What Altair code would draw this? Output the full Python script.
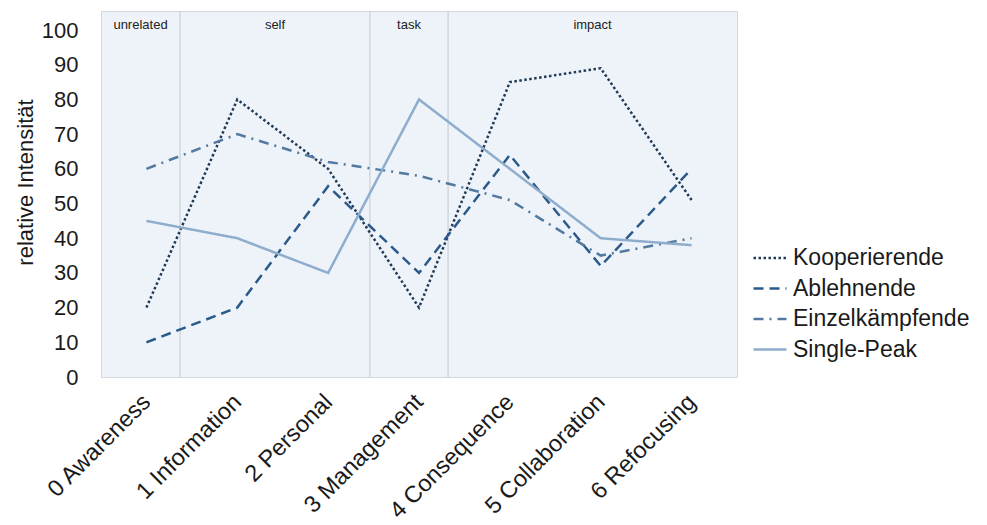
import altair as alt
import pandas as pd

FONT = "Liberation Sans"

# CBAM stages of concern (x axis)
stages = ["0 Awareness", "1 Information", "2 Personal", "3 Management",
          "4 Consequence", "5 Collaboration", "6 Refocusing"]

# Profile groups and their relative intensities per stage
series_names = ["Kooperierende", "Ablehnende", "Einzelkämpfende", "Single-Peak"]
kooperierende = [20, 80, 60, 20, 85, 89, 51]
ablehnende = [10, 20, 55, 30, 64, 32, 60]
einzelkaempfende = [60, 70, 62, 58, 51, 35, 40]
single_peak = [45, 40, 30, 80, 60, 40, 38]

# Stage groupings shown as bands across the top of the plot
section_names = ["unrelated", "self", "task", "impact"]
section_edges = [-0.5, 0.37, 2.46, 3.32, 6.5]

series_colors = ["#1f3a56", "#2b5a8a", "#52799f", "#8eaccc"]
series_dashes = [[2.5, 2.5], [10, 6], [10, 6, 2, 6], [1, 0]]

rows = []
for name, vals in zip(series_names,
                      [kooperierende, ablehnende, einzelkaempfende, single_peak]):
    for i, v in enumerate(vals):
        rows.append({"series": name, "idx": i, "stage": stages[i], "value": v})
df = pd.DataFrame(rows)

sections = pd.DataFrame({
    "section": section_names,
    "mid": [(a + b) / 2 for a, b in zip(section_edges[:-1], section_edges[1:])],
})
edges = pd.DataFrame({"edge": section_edges[1:-1]})

label_expr = "[" + ",".join(f"'{s}'" for s in stages) + "][datum.value]"

W, H = 636, 366
xscale = alt.Scale(domain=[-0.5, 6.5], nice=False, zero=False)
yscale = alt.Scale(domain=[0, 105.5], nice=False)

x_axis = alt.Axis(
    values=list(range(len(stages))), labelExpr=label_expr, labelAngle=-45,
    labelAlign="right", labelBaseline="middle", labelFontSize=23.5,
    labelFont=FONT, labelColor="#1a1a1a", labelPadding=21, ticks=False,
    tickSize=0, domain=False, grid=False, title=None, labelOverlap=False,
)
y_axis = alt.Axis(
    values=list(range(0, 101, 10)), labelFontSize=22, labelFont=FONT,
    labelColor="#1a1a1a", labelPadding=23, ticks=False, tickSize=0,
    domain=False, grid=False, title="relative Intensität", titleFont=FONT,
    titleFontSize=22, titleFontWeight="normal", titleColor="#1a1a1a",
    titleX=-76, titleY=171, titleAngle=-90, titleAlign="center",
    titleBaseline="middle",
)

rules = alt.Chart(edges).mark_rule(color="#c3c8cf", strokeWidth=1).encode(
    x=alt.X("edge:Q", scale=xscale, axis=x_axis),
    y=alt.value(0),
    y2=alt.value(H),
)

lines = alt.Chart(df).mark_line(strokeWidth=2.5).encode(
    x=alt.X("idx:Q", scale=xscale, axis=x_axis),
    y=alt.Y("value:Q", scale=yscale, axis=y_axis),
    color=alt.Color("series:N", sort=series_names,
                    scale=alt.Scale(domain=series_names, range=series_colors),
                    legend=alt.Legend(title=None)),
    strokeDash=alt.StrokeDash("series:N", sort=series_names,
                              scale=alt.Scale(domain=series_names, range=series_dashes),
                              legend=alt.Legend(title=None)),
)

labels = alt.Chart(sections).mark_text(
    fontSize=13, font=FONT, color="#222222", baseline="middle", align="center"
).encode(
    x=alt.X("mid:Q", scale=xscale, axis=x_axis),
    y=alt.value(14),
    text="section:N",
)

chart = alt.layer(rules, lines, labels).properties(
    width=W, height=H,
    autosize=alt.AutoSizeParams(type="none"),
    padding={"left": 101, "top": 11, "right": 250, "bottom": 148},
    background="white",
).configure_view(
    fill="#eef3f9", stroke="#d3d8de", strokeWidth=1,
).configure_legend(
    orient="none", legendX=651, legendY=229, symbolType="stroke",
    symbolSize=1089, symbolStrokeWidth=2.5, labelFontSize=23, labelFont=FONT,
    labelColor="#1a1a1a", labelOffset=5, rowPadding=0.5, labelLimit=300,
)

chart.save("out.html", embed_options={"renderer": "svg", "actions": False})
